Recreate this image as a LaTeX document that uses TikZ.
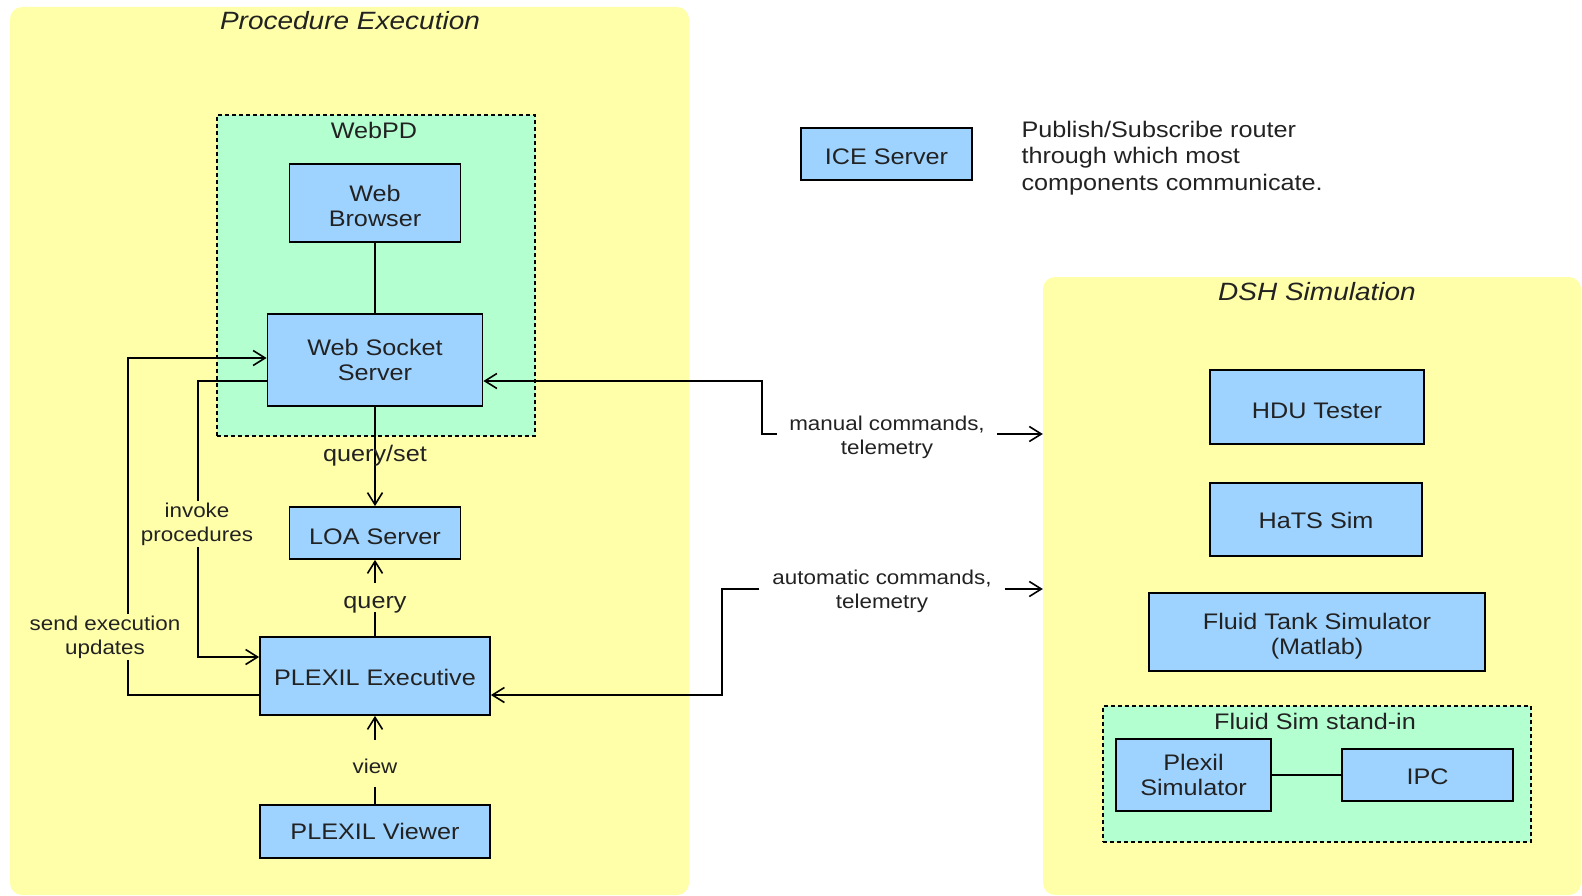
\documentclass[tikz,border=0pt]{standalone}
\usepackage{fontspec}
\setmainfont{Liberation Sans}[FakeStretch=1.12]
\usetikzlibrary{arrows.meta,calc}

\definecolor{panelyellow}{RGB}{255,255,170}
\definecolor{groupgreen}{RGB}{180,255,208}
\definecolor{compblue}{RGB}{158,211,255}
\definecolor{inktext}{RGB}{34,34,34}

% centred lines of a component box, set a little below the box middle
\newcommand{\boxtxt}[2][5pt]{\raisebox{-#1}[\height][\depth]{\begin{tabular}{@{}c@{}}#2\end{tabular}}}

\tikzset{
  panel/.style={fill=panelyellow, rounded corners=12pt, inner sep=0pt},
  paneltitle/.style={font=\fontsize{25}{29}\selectfont\itshape, text=inktext},
  group/.style={fill=groupgreen, draw=black, line width=1.8pt, dash pattern=on 4pt off 3pt, inner sep=0pt},
  grouptitle/.style={font=\fontsize{22.5}{26}\selectfont, text=inktext},
  comp/.style={fill=compblue, draw=black, line width=1.8pt, inner sep=0pt,
    font=\fontsize{22.5}{25.5}\selectfont, text=inktext},
  conn/.style={draw=black, line width=1.6pt},
  flow/.style={conn, -{Straight Barb[length=12pt,width=15pt]}},
  smalllbl/.style={font=\fontsize{20}{24}\selectfont, text=inktext, align=center},
  biglbl/.style={font=\fontsize{22.5}{26}\selectfont, text=inktext, align=center},
}

\begin{document}
\begin{tikzpicture}[x=1pt,y=-1pt]
\useasboundingbox (0,0) rectangle (1582,896);

% panels
\node[panel, minimum width=679pt, minimum height=888pt] (proc) at (349.5,451) {};
\node[panel, minimum width=538pt, minimum height=618pt] (dsh) at (1312,586) {};
\node[paneltitle] (procT) at (350,21) {Procedure Execution};
\node[paneltitle] (dshT) at (1317,292) {DSH Simulation};

% groups
\node[group, minimum width=318pt, minimum height=321pt] (webpd) at (376,275.5) {};
\node[grouptitle] (webpdT) at (374,130) {WebPD};
\node[group, minimum width=428pt, minimum height=136pt] (fluidgrp) at (1317,774) {};
\node[grouptitle] (fluidT) at (1315,721) {Fluid Sim stand-in};

% components
\node[comp, minimum width=171pt, minimum height=78pt] (wb) at (375,203) {\boxtxt[6pt]{Web\\Browser}};
\node[comp, minimum width=215pt, minimum height=92pt] (wss) at (375,360) {\boxtxt[3pt]{Web Socket\\Server}};
\node[comp, minimum width=171pt, minimum height=52pt] (loa) at (375,533) {\boxtxt[6pt]{LOA Server}};
\node[comp, minimum width=230pt, minimum height=78pt] (exec) at (375,676) {\boxtxt[4pt]{PLEXIL Executive}};
\node[comp, minimum width=230pt, minimum height=53pt] (viewer) at (375,831.5) {\boxtxt[3pt]{PLEXIL Viewer}};
\node[comp, minimum width=171pt, minimum height=52pt] (ice) at (886.5,154) {\boxtxt{ICE Server}};
\node[biglbl, anchor=west, align=left, font=\fontsize{22.5}{26.5}\selectfont] (iceNote) at (1018,158)
  {Publish/Subscribe router\\through which most\\components communicate.};

\node[comp, minimum width=214pt, minimum height=74pt] (hdu) at (1317,407) {\boxtxt[6pt]{HDU Tester}};
\node[comp, minimum width=212pt, minimum height=73pt] (hats) at (1316,519.5) {\boxtxt[4pt]{HaTS Sim}};
\node[comp, minimum width=336pt, minimum height=78pt] (tank) at (1317,632) {\boxtxt[5pt]{Fluid Tank Simulator\\(Matlab)}};
\node[comp, minimum width=155pt, minimum height=72pt] (psim) at (1193.5,775) {\boxtxt[3pt]{Plexil\\Simulator}};
\node[comp, minimum width=171pt, minimum height=52pt] (ipc) at (1427.5,775) {\boxtxt[4pt]{IPC}};

% plain links
\draw[conn] (wb) -- (wss);
\draw[conn] (psim) -- (ipc);

% query/set: socket server to LOA server
\draw[flow] (wss) -- (loa);
\node[biglbl] (qsT) at (375,456) {query/set};

% query: executive to LOA server
\node[biglbl, fill=panelyellow, inner ysep=2pt, text height=23.5pt, text depth=1.5pt] (qT) at (375,597.5) {query};
\draw[flow] (qT.north) -- (loa.south);
\draw[conn] (exec.north) -- (qT.south);

% view: viewer to executive
\node[smalllbl, fill=panelyellow, inner ysep=2pt, text height=31pt, text depth=12pt] (vT) at (375,763.5) {view};
\draw[flow] (vT.north) -- (exec.south);
\draw[conn] (viewer.north) -- (vT.south);

% executive feedback to the socket server
\coordinate (sendY) at (0,695);
\coordinate (sendX) at (128,358);
\draw[flow] (exec.west |- sendY) -| (sendX) -- (wss.west |- sendX);
\node[smalllbl, fill=panelyellow, inner sep=2pt] (sendT) at (105,637) {send execution\\updates};

% procedure invocation from the socket server
\coordinate (invY) at (0,381);
\coordinate (invX) at (198,657);
\draw[flow] (wss.west |- invY) -| (invX) -- (exec.west |- invX);
\node[smalllbl, fill=panelyellow, inner sep=2pt] (invT) at (197,524) {invoke\\procedures};

% manual commands between the socket server and the simulation
\node[smalllbl, inner xsep=12pt, inner ysep=0pt] (manT) at (887,437) {manual commands,\\telemetry};
\coordinate (manY) at (0,434);
\coordinate (manBend) at (762,381);
\draw[flow] (manT.west |- manY) -| (manBend) -- (wss.east |- manBend);
\draw[flow] (manT.east |- manY) -- (dsh.west |- manY);

% automatic commands between the executive and the simulation
\node[smalllbl, inner xsep=13pt, inner ysep=0pt] (autoT) at (882,591) {automatic commands,\\telemetry};
\coordinate (autoY) at (0,589);
\coordinate (autoBend) at (722,695);
\draw[flow] (autoT.west |- autoY) -| (autoBend) -- (exec.east |- autoBend);
\draw[flow] (autoT.east |- autoY) -- (dsh.west |- autoY);
\end{tikzpicture}
\end{document}
